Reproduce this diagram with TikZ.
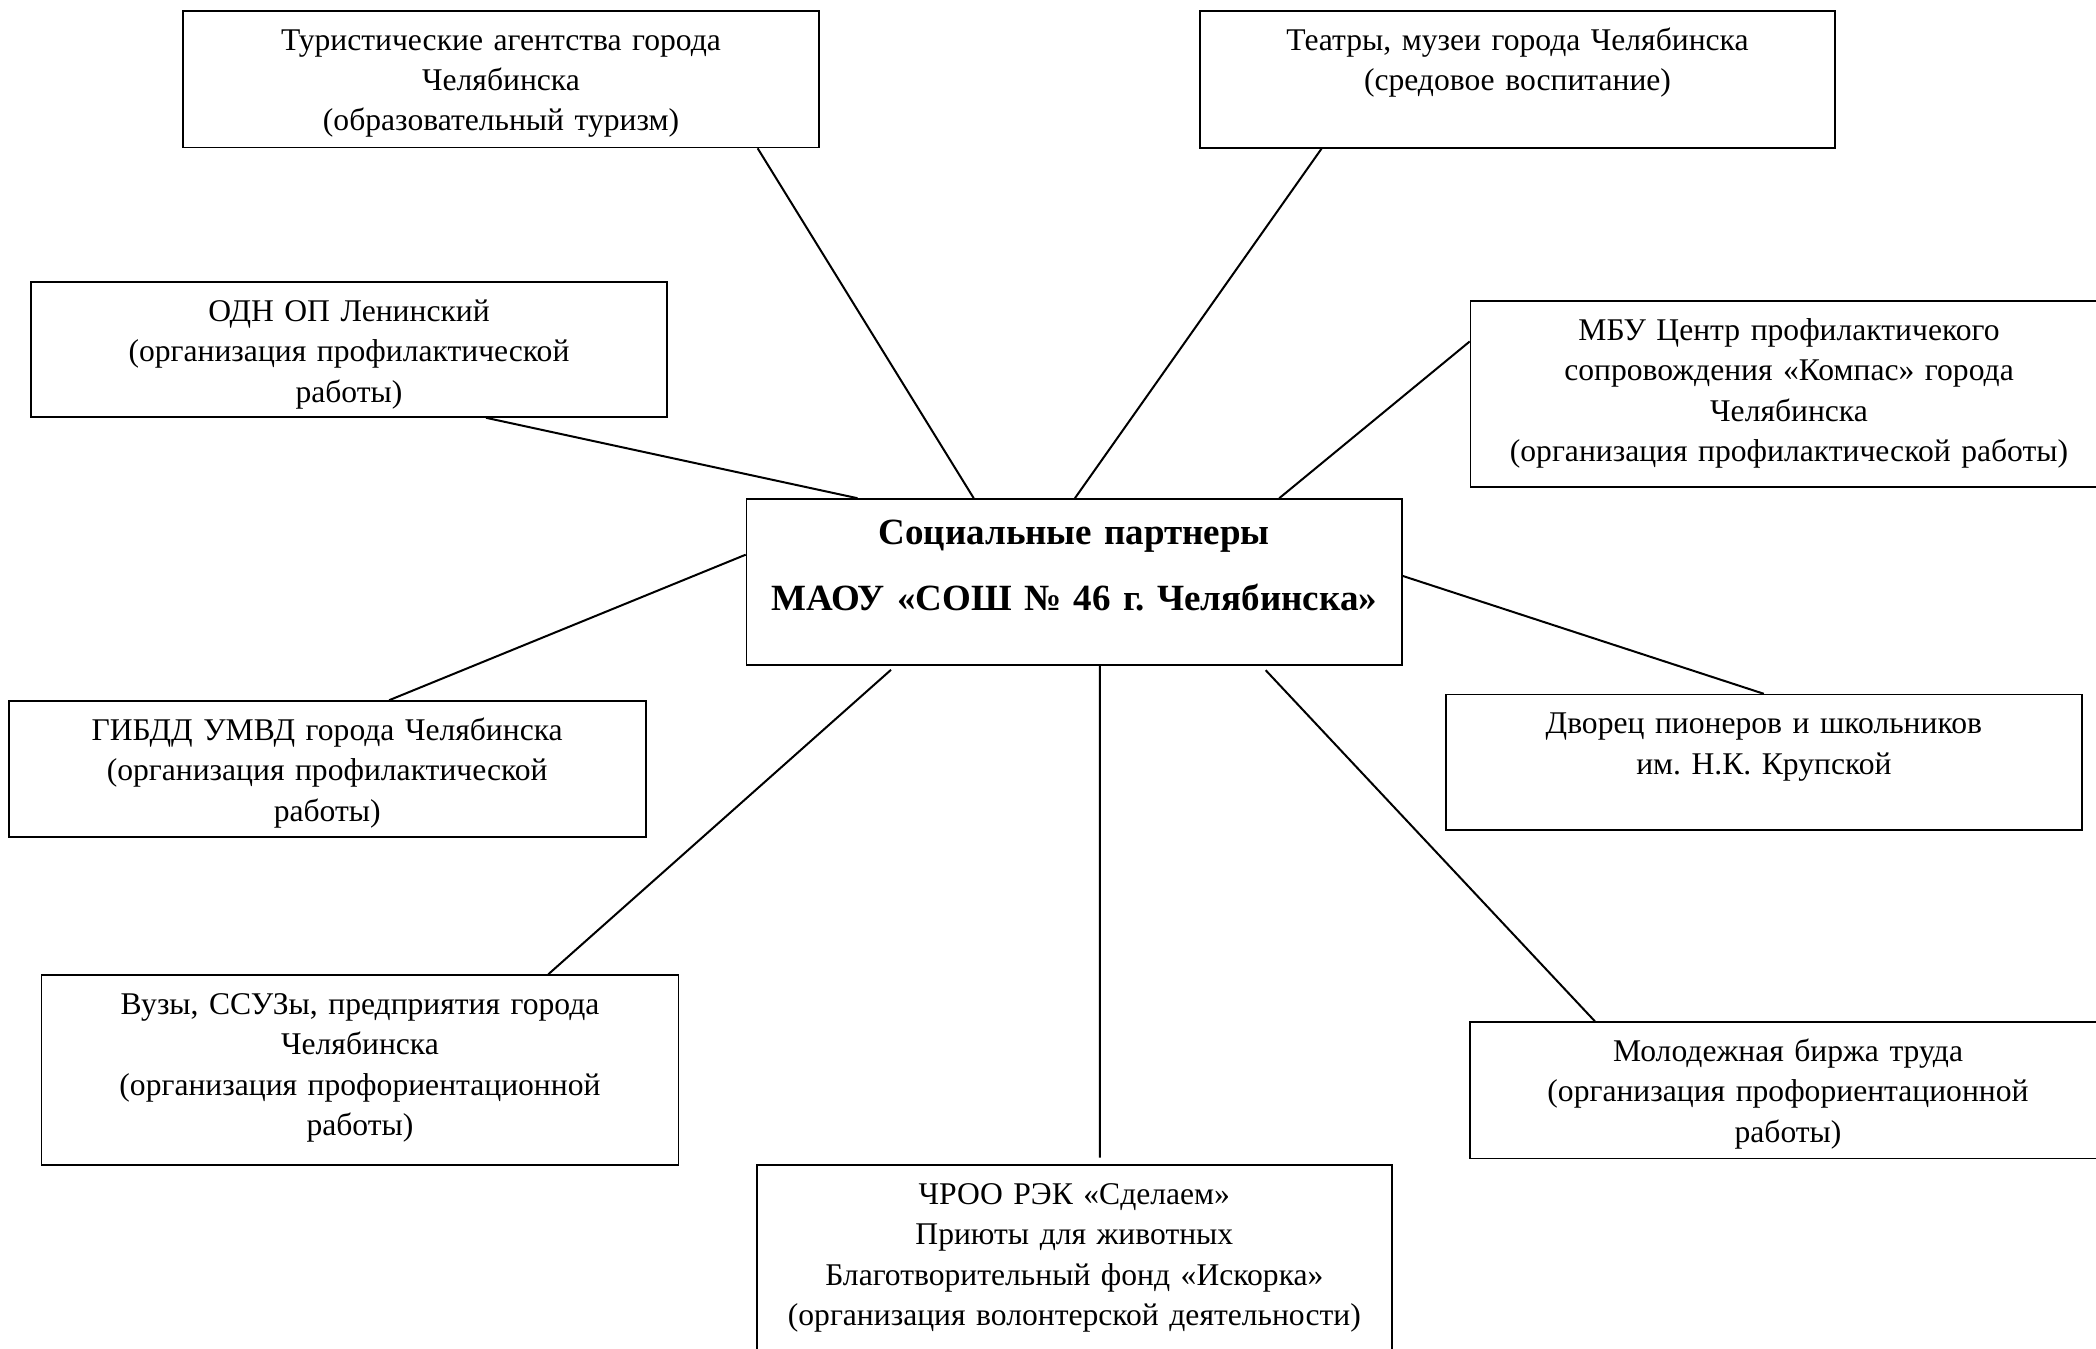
\documentclass[tikz,border=0pt]{standalone}
\usepackage{fontspec}
\setmainfont{Liberation Serif}
\usepackage{tikz}
\usetikzlibrary{calc}
\frenchspacing
\tikzset{
  box/.style={draw=black, line width=0.8pt, inner sep=0pt},
  link/.style={draw=black, line width=1pt},
  lab/.style={text width=314pt, align=center, inner sep=0pt, anchor=base,
    font=\fontsize{15.8pt}{20.2pt}\selectfont},
  labb/.style={lab, text width=324pt, font=\fontsize{18.5pt}{33pt}\selectfont\bfseries}
}

\begin{document}
\begin{tikzpicture}[x=0.5pt, y=-0.5pt]
  \path[use as bounding box, fill=white] (0,0) rectangle (2096,1348);
  % boxes
  \node[box, minimum width=327.75pt, minimum height=83pt] (soc) at (1074.25,582) {};
  \node[box, minimum width=318pt, minimum height=68.25pt] (tur) at (501,79.25) {};
  \node[box, minimum width=317.5pt, minimum height=68.5pt] (teatr) at (1517.5,79.5) {};
  \node[box, minimum width=318pt, minimum height=67.5pt] (odn) at (349,349.5) {};
  \node[box, minimum width=318.5pt, minimum height=93pt] (mbu) at (1789,394) {};
  \node[box, minimum width=318.5pt, minimum height=68pt] (gibdd) at (327.2,769) {};
  \node[box, minimum width=318pt, minimum height=67.7pt] (dvor) at (1763.85,762.3) {};
  \node[box, minimum width=318.5pt, minimum height=95pt] (vuz) at (360,1070) {};
  \node[box, minimum width=318pt, minimum height=68.25pt] (mol) at (1788,1090.25) {};
  \node[box, minimum width=317.65pt, minimum height=100pt] (chroo) at (1074.35,1265) {};
  % texts
  \node[labb] (soc-t) at ($(soc.north)+(0,46)$) {Социальные партнеры\\МАОУ «СОШ № 46 г. Челябинска»};
  \node[lab] (tur-t) at ($(tur.north)+(0,40)$) {Туристические агентства города\\Челябинска\\(образовательный туризм)};
  \node[lab] (teatr-t) at ($(teatr.north)+(0,40)$) {Театры, музеи города Челябинска\\(средовое воспитание)};
  \node[lab] (odn-t) at ($(odn.north)+(0,40)$) {ОДН ОП Ленинский\\(организация профилактической\\работы)};
  \node[lab] (mbu-t) at ($(mbu.north)+(0,40)$) {МБУ Центр профилактичекого\\сопровождения «Компас» города\\Челябинска\\(организация профилактической работы)};
  \node[lab] (gibdd-t) at ($(gibdd.north)+(0,40)$) {ГИБДД УМВД города Челябинска\\(организация профилактической\\работы)};
  \node[lab] (dvor-t) at ($(dvor.north)+(0,40)$) {Дворец пионеров и школьников\\им. Н.К. Крупской};
  \node[lab] (vuz-t) at ($(vuz.north)+(0,40)$) {Вузы, ССУЗы, предприятия города\\Челябинска\\(организация профориентационной\\работы)};
  \node[lab] (mol-t) at ($(mol.north)+(0,40)$) {Молодежная биржа труда\\(организация профориентационной\\работы)};
  \node[lab] (chroo-t) at ($(chroo.north)+(0,40)$) {ЧРОО РЭК «Сделаем»\\Приюты для животных\\Благотворительный фонд «Искорка»\\(организация волонтерской деятельности)};
  % links
  \draw[link] ($(tur.south west)!0.9025!(tur.south east)$) -- ($(soc.north west)!0.347!(soc.north east)$);
  \draw[link] ($(teatr.south west)!0.192!(teatr.south east)$) -- ($(soc.north west)!0.501!(soc.north east)$);
  \draw[link] ($(odn.south west)!0.715!(odn.south east)$) -- ($(soc.north west)!0.17!(soc.north east)$);
  \draw[link] ($(mbu.north west)!0.22!(mbu.south west)$) -- ($(soc.north west)!0.812!(soc.north east)$);
  \draw[link] ($(soc.north west)!0.337!(soc.south west)$) -- ($(gibdd.north west)!0.597!(gibdd.north east)$);
  \draw[link] ($(soc.north east)!0.464!(soc.south east)$) -- (dvor.north);
  \draw[link, shorten <=3pt] ($(soc.south west)!0.228!(soc.south east)$) -- ($(vuz.north west)!0.795!(vuz.north east)$);
  \draw[link, shorten >=3.25pt] ($(soc.south west)!0.539!(soc.south east)$) -- ($(chroo.north west)!0.54!(chroo.north east)$);
  \draw[link, shorten <=3pt] ($(soc.south west)!0.785!(soc.south east)$) -- ($(mol.north west)!0.197!(mol.north east)$);
\end{tikzpicture}
\end{document}
